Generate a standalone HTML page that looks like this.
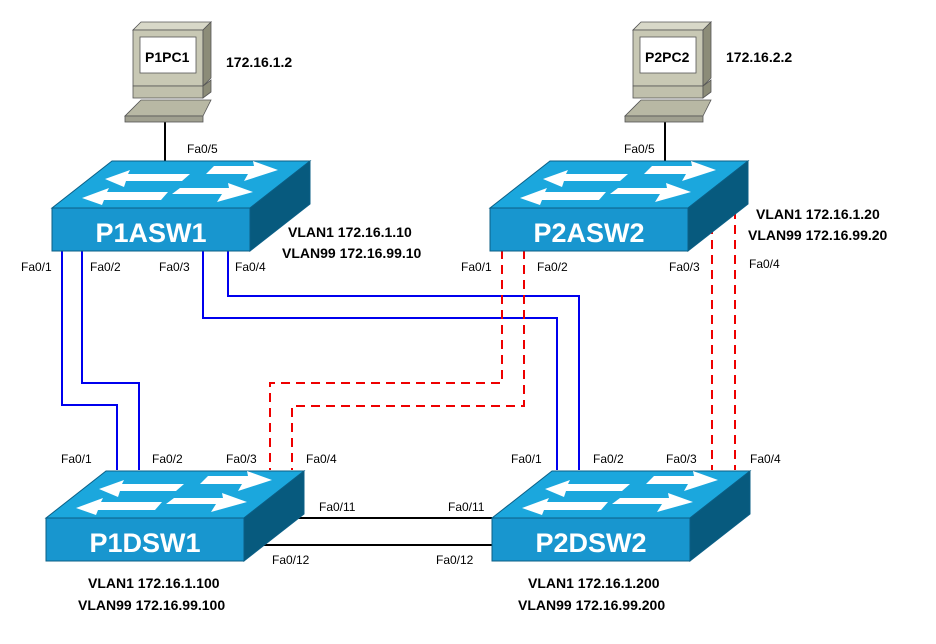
<!DOCTYPE html>
<html><head><meta charset="utf-8"><style>
body{margin:0;background:#fff}
svg{display:block}
text{font-family:"Liberation Sans",Arial,sans-serif}
.p{font-size:12px;fill:#000}
.b{font-size:14px;font-weight:bold;fill:#000}
.sw{font-size:27px;font-weight:bold;fill:#fff}
</style></head><body>
<svg width="936" height="644" viewBox="0 0 936 644">
<defs>
<g id="sw">
<polygon points="0,0 198,0 258,-47 60,-47" fill="#1ba7dd" stroke="#0b5f86" stroke-width="1"/>
<rect x="0" y="0" width="198" height="43" fill="#1896cf" stroke="#0b5f86" stroke-width="1"/>
<polygon points="198,0 258,-47 258,-4 198,43" fill="#075a7e" stroke="#0b5f86" stroke-width="1"/>
<polygon points="53,-29 78,-38 76,-34 138,-34 130,-27 74,-27 72,-21" fill="#fff"/>
<polygon points="226,-38 201,-47 202,-42 162,-42 154,-34 196,-34 192,-27" fill="#fff"/>
<polygon points="30,-10 57,-20 55,-16 116,-16 109,-8 52,-8 50,-3" fill="#fff"/>
<polygon points="201,-16 176,-25 177,-20 128,-20 120,-14 170,-14 165,-6" fill="#fff"/>
</g>
<g id="pc">
<polygon points="0,0 70,0 78,-8 8,-8" fill="#d8d8c8" stroke="#555" stroke-width="0.8"/>
<rect x="0" y="0" width="70" height="56" fill="#c8c8b4" stroke="#555" stroke-width="0.8"/>
<polygon points="70,0 78,-8 78,48 70,56" fill="#8c8c78" stroke="#555" stroke-width="0.8"/>
<rect x="7" y="7" width="56" height="36" fill="#fff" stroke="#555" stroke-width="0.8"/>
<rect x="0" y="56" width="70" height="12" fill="#c0c0ac" stroke="#555" stroke-width="0.8"/>
<polygon points="70,56 78,50 78,62 70,68" fill="#8c8c78" stroke="#555" stroke-width="0.8"/>
<polygon points="-8,86 70,86 78,70 8,70" fill="#b8b8a4" stroke="#555" stroke-width="0.8"/>
<rect x="-8" y="86" width="78" height="6" fill="#a0a090" stroke="#555" stroke-width="0.8"/>
</g>
</defs>
<!-- PC links -->
<line x1="165" y1="115" x2="165" y2="162" stroke="#000" stroke-width="2"/>
<line x1="665" y1="115" x2="665" y2="162" stroke="#000" stroke-width="2"/>
<!-- blue -->
<g fill="none" stroke="#0000ee" stroke-width="2">
<polyline points="62,250 62,405 117,405 117,470"/>
<polyline points="82,250 82,383 139,383 139,470"/>
<polyline points="203,250 203,318 557,318 557,470"/>
<polyline points="228,250 228,296 579,296 579,470"/>
</g>
<g fill="none" stroke="#ee0000" stroke-width="2" stroke-dasharray="9,6">
<polyline points="502,250 502,383 270,383 270,470"/>
<polyline points="524,250 524,406 292,406 292,470"/>
<polyline points="712,210 712,470"/>
<polyline points="735,210 735,470"/>
</g>
<line x1="270" y1="518" x2="492" y2="518" stroke="#000" stroke-width="2"/>
<line x1="240" y1="545" x2="492" y2="545" stroke="#000" stroke-width="2"/>
<use href="#pc" x="133" y="30"/>
<use href="#pc" x="633" y="30"/>
<text class="b" x="145" y="62" font-size="13">P1PC1</text>
<text class="b" x="645" y="62" font-size="13">P2PC2</text>
<use href="#sw" x="52" y="208"/>
<use href="#sw" x="490" y="208"/>
<use href="#sw" x="46" y="518"/>
<use href="#sw" x="492" y="518"/>
<text class="sw" x="151" y="242" text-anchor="middle">P1ASW1</text>
<text class="sw" x="589" y="242" text-anchor="middle">P2ASW2</text>
<text class="sw" x="145" y="552" text-anchor="middle">P1DSW1</text>
<text class="sw" x="591" y="552" text-anchor="middle">P2DSW2</text>
<text class="b" x="226" y="67">172.16.1.2</text>
<text class="b" x="726" y="62">172.16.2.2</text>
<text class="p" x="187" y="153">Fa0/5</text>
<text class="p" x="624" y="153">Fa0/5</text>
<text class="b" x="288" y="237">VLAN1 172.16.1.10</text>
<text class="b" x="282" y="258">VLAN99 172.16.99.10</text>
<text class="b" x="756" y="219">VLAN1 172.16.1.20</text>
<text class="b" x="748" y="240">VLAN99 172.16.99.20</text>
<text class="p" x="21" y="271">Fa0/1</text>
<text class="p" x="90" y="271">Fa0/2</text>
<text class="p" x="159" y="271">Fa0/3</text>
<text class="p" x="235" y="271">Fa0/4</text>
<text class="p" x="461" y="271">Fa0/1</text>
<text class="p" x="537" y="271">Fa0/2</text>
<text class="p" x="669" y="271">Fa0/3</text>
<text class="p" x="749" y="268">Fa0/4</text>
<text class="p" x="61" y="463">Fa0/1</text>
<text class="p" x="152" y="463">Fa0/2</text>
<text class="p" x="226" y="463">Fa0/3</text>
<text class="p" x="306" y="463">Fa0/4</text>
<text class="p" x="511" y="463">Fa0/1</text>
<text class="p" x="593" y="463">Fa0/2</text>
<text class="p" x="666" y="463">Fa0/3</text>
<text class="p" x="750" y="463">Fa0/4</text>
<text class="p" x="319" y="511">Fa0/11</text>
<text class="p" x="448" y="511">Fa0/11</text>
<text class="p" x="272" y="564">Fa0/12</text>
<text class="p" x="436" y="564">Fa0/12</text>
<text class="b" x="88" y="588">VLAN1 172.16.1.100</text>
<text class="b" x="78" y="610">VLAN99 172.16.99.100</text>
<text class="b" x="528" y="588">VLAN1 172.16.1.200</text>
<text class="b" x="518" y="610">VLAN99 172.16.99.200</text>
</svg>
</body></html>
